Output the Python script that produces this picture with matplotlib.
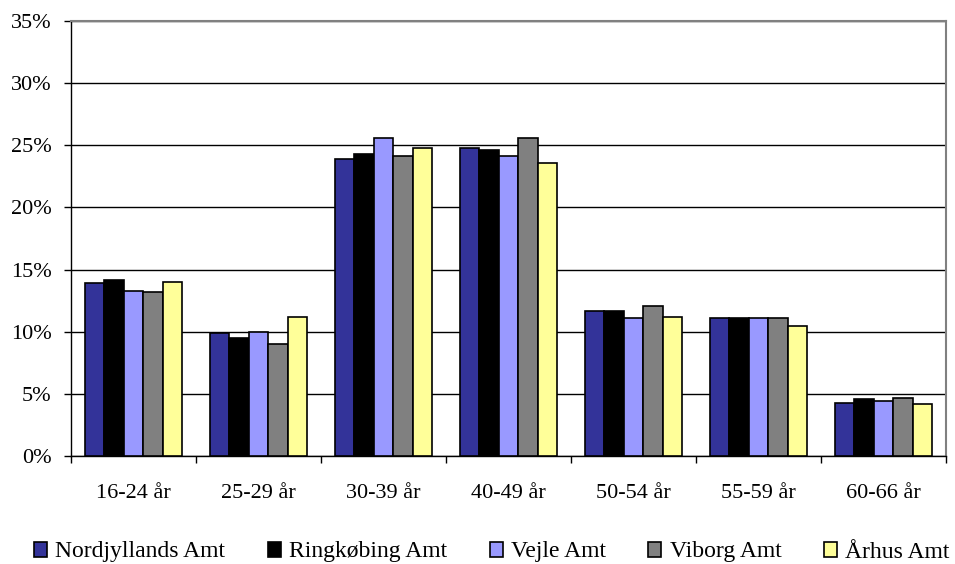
import matplotlib
matplotlib.use("Agg")
import matplotlib.pyplot as plt
import numpy as np
from matplotlib.ticker import FixedLocator, PercentFormatter

plt.rcParams['font.family'] = ['Liberation Serif', 'DejaVu Serif']

categories = ["16-24 år", "25-29 år", "30-39 år", "40-49 år", "50-54 år", "55-59 år", "60-66 år"]
series_names = ["Nordjyllands Amt", "Ringkøbing Amt", "Vejle Amt", "Viborg Amt", "Århus Amt"]
nordjylland = [13.9, 9.9, 23.9, 24.8, 11.7, 11.1, 4.3]
ringkobing = [14.2, 9.5, 24.3, 24.6, 11.7, 11.1, 4.6]
vejle = [13.3, 10.0, 25.6, 24.1, 11.1, 11.1, 4.4]
viborg = [13.2, 9.0, 24.1, 25.6, 12.1, 11.1, 4.7]
aarhus = [14.0, 11.2, 24.8, 23.6, 11.2, 10.5, 4.2]
yticks = [0, 5, 10, 15, 20, 25, 30, 35]

values = [nordjylland, ringkobing, vejle, viborg, aarhus]
colors = ["#333399", "#000000", "#9999FF", "#808080", "#FFFF99"]

fig = plt.figure(figsize=(9.55, 5.64), dpi=100)
ax = fig.add_axes([71/955, 1 - 456/564, (946-71)/955, (456-21)/564])

x = np.arange(len(categories))
bw = 0.156
for i, (vals, col, name) in enumerate(zip(values, colors, series_names)):
    ax.bar(x + (i - 2) * bw, vals, width=bw, color=col, edgecolor="black",
           linewidth=1.2, label=name, zorder=3)

ax.set_xlim(-0.5, len(categories) - 0.5)
ax.set_ylim(0, 35)
ax.set_yticks(yticks)
ax.yaxis.set_major_formatter(PercentFormatter(decimals=0))
ax.yaxis.grid(True, color="black", linewidth=1.0, zorder=0)
ax.set_axisbelow(True)

ax.set_xticks(x)
ax.set_xticklabels(categories)
ax.xaxis.set_minor_locator(FixedLocator(np.arange(-0.5, len(categories), 1.0)))
ax.tick_params(axis="x", which="major", length=0, pad=20, labelsize=16)
ax.tick_params(axis="x", which="minor", length=5, direction="out", width=1)
ax.tick_params(axis="y", length=5, direction="out", width=1, labelsize=16, pad=9)

for s in ["top", "right"]:
    ax.spines[s].set_color("#808080")
    ax.spines[s].set_linewidth(1.5)
for s in ["left", "bottom"]:
    ax.spines[s].set_color("black")
    ax.spines[s].set_linewidth(1.0)

fig.legend(loc="center", bbox_to_anchor=(0.515, 1 - 552/564), ncol=5, frameon=False,
           fontsize=17, handlelength=0.55, handleheight=0.6, handletextpad=0.35,
           columnspacing=1.8, borderaxespad=0)

fig.savefig("out.png", dpi=100)
